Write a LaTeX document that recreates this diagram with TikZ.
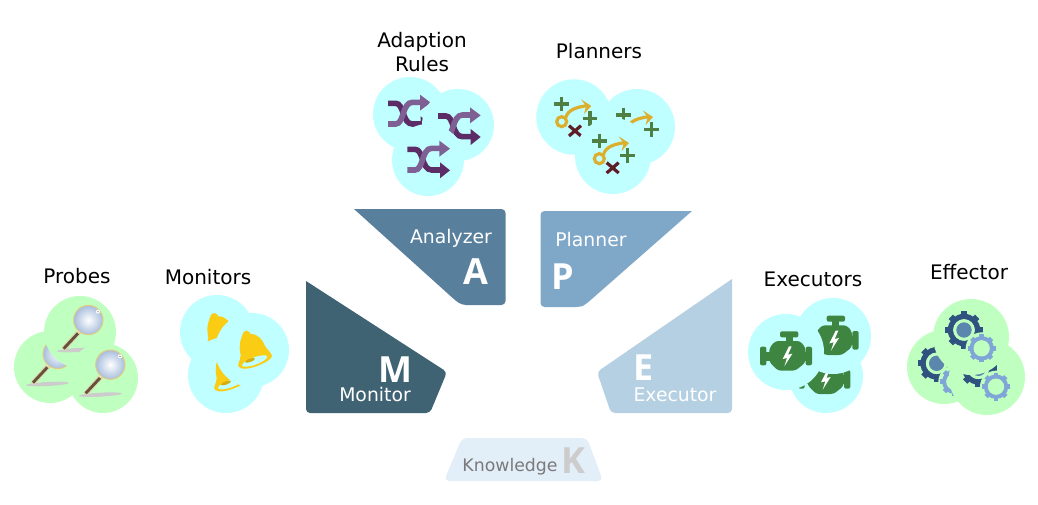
\documentclass[tikz,border=0pt]{standalone}
\usepackage{fontspec}
\usetikzlibrary{calc}
\setmainfont{DejaVu Sans}
\newfontfamily\bigletter{Open Sans}[BoldFont={Open Sans Bold}]
\definecolor{cyanbub}{HTML}{BFFFFF}
\definecolor{greenbub}{HTML}{BFFFBF}
\definecolor{monc}{HTML}{3F6373}
\definecolor{anac}{HTML}{587F9C}
\definecolor{planc}{HTML}{7FA7C8}
\definecolor{exec}{HTML}{B5D0E2}
\definecolor{knowc}{HTML}{E2EEF8}
\definecolor{shufd}{HTML}{5C2C66}
\definecolor{shufl}{HTML}{7F6094}
\definecolor{plusg}{HTML}{4F7F43}
\definecolor{gold}{HTML}{DCAE2E}
\definecolor{redx}{HTML}{5F1E27}
\definecolor{bellc}{HTML}{FACC14}
\definecolor{engc}{HTML}{3F8542}
\definecolor{gdark}{HTML}{2F5280}
\definecolor{gdisc}{HTML}{5B86AD}
\definecolor{glight}{HTML}{7FA6D6}
\definecolor{handlet}{HTML}{DED4AA}
\definecolor{handleb}{HTML}{64503C}
\definecolor{glassb}{HTML}{A8BEDC}
\definecolor{glassr}{HTML}{E1CD82}
\tikzset{
  lab/.style={font=\fontsize{20}{24}\selectfont,text=black,inner sep=0pt},
  inlab/.style={font=\fontsize{18.8}{22}\selectfont,text=white,inner sep=0pt},
  biglet/.style={font=\bigletter\bfseries\fontsize{36}{40}\selectfont,text=white,inner sep=0pt},
  sector/.style={rounded corners=5pt},
}
% icons: local coordinates are zoomed reference coordinates (3x)
\newcommand\shuffleicon[4]{\begin{scope}[shift={(#1,#2)},scale=1/3,shift={(#3,#4)}]
  \draw[shufd,line width=5.6pt] (142,388) -- (165,388) .. controls (190,388) and (185,450) .. (215,450) -- (245,450);
  \fill[shufd] (240,427) -- (270,451) -- (240,475) -- cycle;
  \draw[shufl,line width=5.6pt] (142,450) -- (165,450) .. controls (190,450) and (185,385) .. (215,385) -- (245,385);
  \fill[shufl] (238,362) -- (270,386) -- (238,410) -- cycle;
\end{scope}}
\newcommand\plussign[2]{\draw[plusg,line width=3.2pt] (#1-22,#2) -- (#1+22,#2) (#1,#2-22) -- (#1,#2+22);}
\newcommand\plannericon[4]{\begin{scope}[shift={(#1,#2)},scale=1/3,shift={(#3,#4)}]
  \plussign{605}{252}
  \plussign{690}{296}
  \draw[redx,line width=3.2pt] (627,317) -- (663,348) (663,317) -- (627,348);
  \draw[gold,line width=3.2pt] (605,305) circle (15);
  \draw[gold,line width=3.2pt] (617,293) .. controls (625,268) and (650,262) .. (680,257);
  \fill[gold] (663,238) -- (694,258) -- (672,282) -- (678,258) -- cycle;
\end{scope}}
\newcommand\magicon[4]{\begin{scope}[shift={(#1,#2)},scale=1/3,shift={(#3,#4)}]
  \fill[gray!40,rotate around={3:(235,270)}] (235,270) ellipse (65 and 6);
  \draw[line width=5pt,handlet] (240,212) -- (190,268);
  \draw[line width=2.8pt,handleb] (234,220) -- (191,266);
  \fill[white] (238,210) circle (7);
  \shade[inner color=white,outer color=glassb] (265,180) circle (44);
  \draw[line width=1pt,glassr] (265,180) circle (44);
  \fill[white] (294,155) circle (6);
  \fill[black!60] (294,155) circle (2);
\end{scope}}
\newcommand\bellicon[4]{\begin{scope}[shift={(#1,#2)},scale=1/3,shift={(#3,#4)}]
  \fill[bellc] (731,216) -- (740,212) .. controls (746,212) and (750,218) .. (752,222)
     .. controls (775,222) and (788,240) .. (795,258) .. controls (800,268) and (815,278) .. (816,288)
     .. controls (815,305) and (735,338) .. (718,322) .. controls (708,315) and (722,305) .. (722,285)
     .. controls (715,255) and (722,235) .. (731,216) -- cycle;
  \fill[cyanbub,rotate around={20:(764,303)}] (764,303) ellipse (40 and 11);
  \fill[bellc!85!black,rotate around={20:(750,301)}] (750,301) ellipse (16 and 5);
\end{scope}}
\newcommand\engineicon[4]{\begin{scope}[shift={(#1,#2)},scale=1/3,shift={(#3,#4)}]
  \fill[engc,rounded corners=2pt] (120,214) rectangle (175,232);
  \fill[engc] (137,230) rectangle (158,246);
  \fill[engc,rounded corners=2pt] (60,260) rectangle (79,316);
  \fill[engc,rounded corners=2pt] (197,260) rectangle (216,316);
  \fill[engc] (76,275) rectangle (92,302);
  \fill[engc] (190,275) rectangle (200,302);
  \fill[engc,rounded corners=3pt] (88,264) -- (106,243) -- (180,243) -- (196,262) -- (196,308) -- (166,332) -- (114,332) -- (88,306) -- cycle;
  \fill[white] (147,259) -- (128,297) -- (141,294) -- (133,319) -- (157,281) -- (144,284) -- (155,259) -- cycle;
\end{scope}}
\newcommand\gearshape[5]{% x y outer inner colour
  \foreach \a in {0,45,...,315}{
    \draw[#5,line width=#3*0.11pt] ($(#1,#2)+(\a:#3*0.6)$) -- ($(#1,#2)+(\a:#3)$);
  }
  \draw[#5,line width=#3*0.1pt] (#1,#2) circle (#3*0.72);
  \fill[#4] (#1,#2) circle (#3*0.58);
}
\newcommand\gearicon[4]{\begin{scope}[shift={(#1,#2)},scale=1/3,shift={(#3,#4)}]
  \gearshape{672}{210}{56}{greenbub}{gdark}
  \fill[gdisc] (672,210) circle (23);
  \fill[greenbub] (725,265) circle (48);
  \gearshape{725}{265}{42}{greenbub}{glight}
\end{scope}}
\begin{document}
\begin{tikzpicture}[x=1pt,y=-1pt]
\useasboundingbox (0,0) rectangle (1038,505);
\fill[white] (0,0) rectangle (1038,505);

% Adaption rules
\fill[cyanbub] (410,114) circle (37);
\shuffleicon{360}{20}{-58}{-138}
\fill[cyanbub] (458,125) circle (36);
\shuffleicon{360}{20}{92}{-100}
\fill[cyanbub] (428,160) circle (36);
\shuffleicon{360}{20}{0}{0}

% Planners
\fill[cyanbub] (574,117) circle (37.7);
\plannericon{360}{20}{0}{0}
\fill[cyanbub] (637,127) circle (38);
\plannericon{360}{20}{185}{33}
\fill[cyanbub] (613,156) circle (38);
\plannericon{360}{20}{113}{111}

% Probes
\fill[greenbub] (50,367) circle (36);
\magicon{0}{260}{-92}{102}
\fill[greenbub] (80,332) circle (36);
\magicon{0}{260}{0}{0}
\fill[greenbub] (103,378) circle (35);
\magicon{0}{260}{66}{134}

% Monitors
\fill[cyanbub] (217,332) circle (37);
\bellicon{0}{260}{-97}{-53}
\fill[cyanbub] (226,375) circle (38);
\bellicon{0}{260}{-72}{68}
\fill[cyanbub] (252,350) circle (37);
\bellicon{0}{260}{0}{0}

% Executors
\fill[cyanbub] (826,376) circle (37);
\engineicon{740}{260}{115}{70}
\fill[cyanbub] (833,336) circle (38);
\engineicon{740}{260}{140}{-47}
\fill[cyanbub] (786,352) circle (38);
\engineicon{740}{260}{0}{0}

% Effector
\fill[greenbub] (944,367) circle (37);
\gearicon{740}{260}{-82}{100}
\fill[greenbub] (987,377) circle (38);
\gearicon{740}{260}{43}{115}
\fill[greenbub] (971,337) circle (38);
\gearicon{740}{260}{0}{0}

% Sectors
\fill[anac] (354,209) [rounded corners=4pt] -- (505.5,209) -- (505.5,305) -- (462,305) -- (456,301) [sharp corners] -- cycle;
\fill[planc] (692,211) [rounded corners=4pt] -- (585,305) -- (580,307) -- (540.5,307) -- (540.5,211) [sharp corners] -- cycle;
\fill[monc] (306,281) [rounded corners=4pt] -- (447,372) -- (430,413) -- (306,413) [sharp corners] -- cycle;
\fill[exec] (732,279) [rounded corners=4pt] -- (732,413) -- (611,413) -- (597,372) [sharp corners] -- cycle;
\fill[knowc,sector] (462,438) -- (587,438) -- (603,481) -- (444,481) -- cycle;

% Labels
\node[lab] (adapt) at (422,42.4) {Adaption};
\node[lab] (rules) at (422,64) {Rules};
\node[lab] (plans) at (599,51) {Planners};
\node[lab] (probes) at (77,276) {Probes};
\node[lab] (mons) at (208,277) {Monitors};
\node[lab] (execs) at (813,279) {Executors};
\node[lab] (effs) at (969,272) {Effector};

\node[inlab] (ana) at (451,238) {Analyzer};
\node[biglet] (la) at (476,272) {A};
\node[inlab] (pla) at (591,239) {Planner};
\node[biglet] (lp) at (563,277) {P};
\node[biglet] (lm) at (395,370) {M};
\node[inlab] (mon) at (375,394.5) {Monitor};
\node[biglet] (le) at (644,368) {E};
\node[inlab] (exe) at (675,395) {Executor};
\node[inlab,text=black!52,font=\fontsize{17.3}{21}\selectfont] (know) at (510,466.5) {Knowledge};
\node[biglet,text=black!20] (lk) at (573,461) {K};
\end{tikzpicture}
\end{document}
